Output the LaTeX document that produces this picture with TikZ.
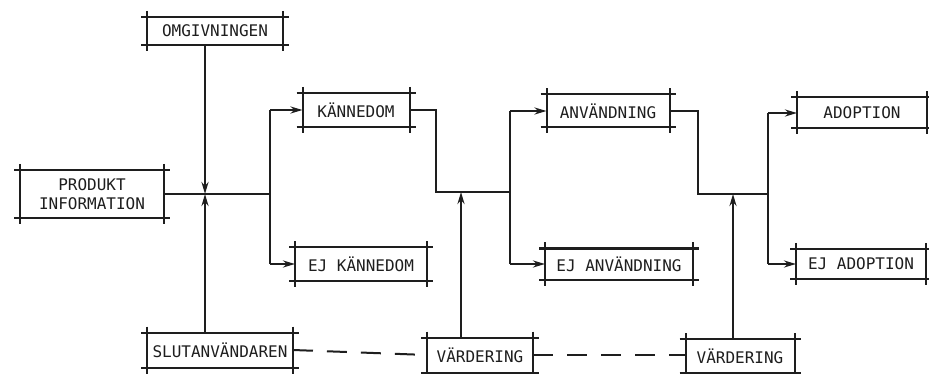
\documentclass[tikz,border=0pt]{standalone}
\usepackage{fontspec}
\setmainfont{DejaVu Sans Mono}
\usetikzlibrary{arrows.meta,calc}
\definecolor{ink}{HTML}{1E1E1E}
\newcommand{\frameit}[2][6]{%
  \draw[frm] ([xshift=-#1pt]#2.north west) -- ([xshift=#1pt]#2.north east);
  \draw[frm] ([xshift=-#1pt]#2.south west) -- ([xshift=#1pt]#2.south east);
  \draw[frm] ([yshift=#1pt]#2.north west) -- ([yshift=-#1pt]#2.south west);
  \draw[frm] ([yshift=#1pt]#2.north east) -- ([yshift=-#1pt]#2.south east);}
\begin{document}
\begin{tikzpicture}[x=1pt,y=-1pt,
  box/.style={inner sep=0pt, outer sep=0pt, text=ink, font=\fontsize{16}{19}\selectfont, align=center},
  frm/.style={draw=ink, line width=2pt},
  ln/.style={draw=ink, line width=2pt},
  arr/.style={ln, -{Stealth[length=12pt,width=7pt]}},
  dsh/.style={ln, dash pattern=on 20pt off 14pt}]
\useasboundingbox (0,0) rectangle (929,374);
\fill[white] (0,0) rectangle (929,374);
% boxes
\node[box, minimum width=136pt, minimum height=28pt] (omg) at (215,31) {OMGIVNINGEN};
\node[box, minimum width=144pt, minimum height=48pt] (prod) at (92,194) {PRODUKT\\INFORMATION};
\node[box, minimum width=107pt, minimum height=34pt] (kan) at (356,110) {KÄNNEDOM};
\node[box, minimum width=132pt, minimum height=33pt] (ejkan) at (361,264) {EJ KÄNNEDOM};
\node[box, minimum width=123pt, minimum height=33pt] (anv) at (608,111) {ANVÄNDNING};
\node[box, minimum width=148pt, minimum height=31pt] (ejanv) at (619,264) {EJ ANVÄNDNING};
\node[box, minimum width=130pt, minimum height=31pt] (adop) at (862,113) {ADOPTION};
\node[box, minimum width=130pt, minimum height=30pt] (ejadop) at (861,264) {EJ ADOPTION};
\node[box, minimum width=146pt, minimum height=35pt] (slut) at (220,350) {SLUTANVÄNDAREN};
\node[box, minimum width=106pt, minimum height=35pt] (var1) at (480,355) {VÄRDERING};
\node[box, minimum width=109pt, minimum height=34pt] (var2) at (740,356) {VÄRDERING};
\foreach \n in {omg,prod,kan,ejkan,anv,ejanv,adop,ejadop,slut,var1,var2}{\frameit{\n}}
% junction coordinates
\coordinate (J1) at (205,194);
\coordinate (S1) at (270,194);
\coordinate (K1) at (436,192);
\coordinate (J2) at (461,192);
\coordinate (S2) at (510,192);
\coordinate (K2) at (698,194);
\coordinate (J3) at (733,194);
\coordinate (S3) at (768,194);
% stage 1
\draw[arr] (omg.south -| J1) -- (J1);
\draw[arr] (slut.north -| J1) -- (J1);
\draw[ln] (prod.east |- J1) -- (S1);
\draw[ln] (S1 |- kan.west) -- (S1 |- ejkan.west);
\draw[arr] (S1 |- kan.west) -- (kan.west);
\draw[arr] (S1 |- ejkan.west) -- (ejkan.west);
% stage 2
\draw[ln] (kan.east) -- (K1 |- kan.east) -- (K1) -- (S2);
\draw[arr] (var1.north -| J2) -- (J2);
\draw[ln] (S2 |- anv.west) -- (S2 |- ejanv.west);
\draw[arr] (S2 |- anv.west) -- (anv.west);
\draw[arr] (S2 |- ejanv.west) -- (ejanv.west);
% stage 3
\draw[ln] (anv.east) -- (K2 |- anv.east) -- (K2) -- (S3);
\draw[arr] (var2.north -| J3) -- (J3);
\draw[ln] (S3 |- adop.west) -- (S3 |- ejadop.west);
\draw[arr] (S3 |- adop.west) -- (adop.west);
\draw[arr] (S3 |- ejadop.west) -- (ejadop.west);
% dashed links
\draw[dsh] (slut.east) -- (var1.west);
\draw[dsh] (var1.east) -- (var2.west |- var1.east);
\end{tikzpicture}
\end{document}
